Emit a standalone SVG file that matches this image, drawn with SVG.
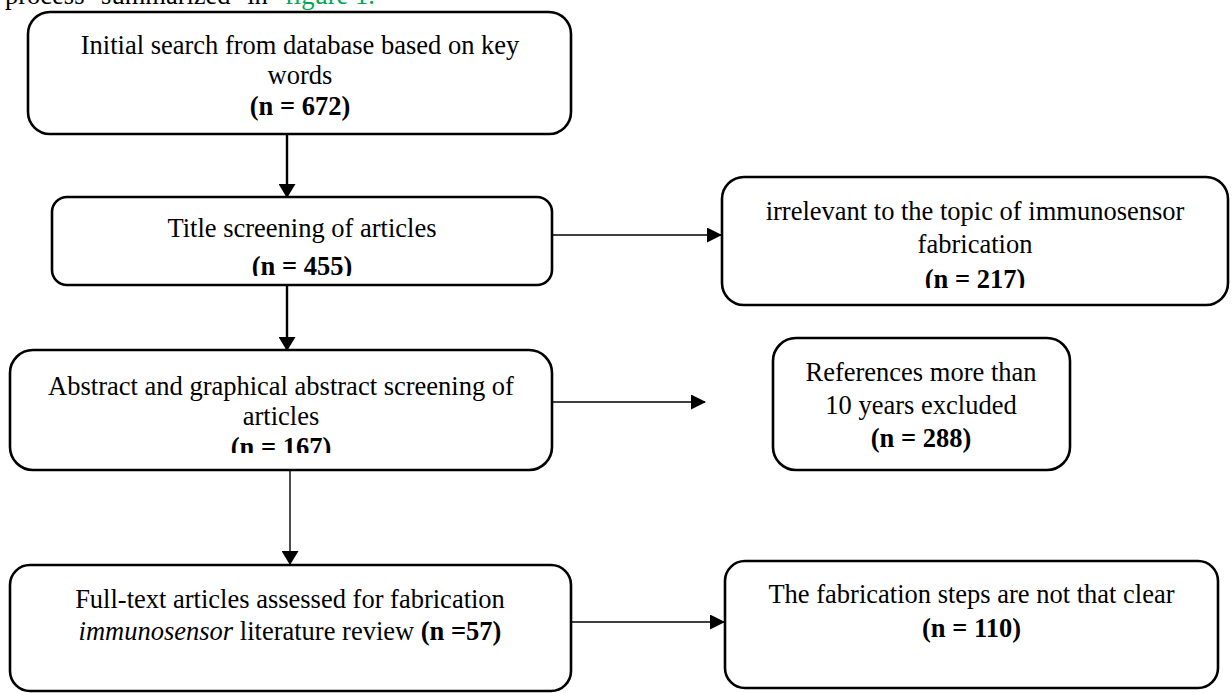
<svg xmlns="http://www.w3.org/2000/svg" width="1232" height="693" viewBox="0 0 1232 693">
<style>
.box{fill:#fff;stroke:#000;stroke-width:2.6}
.t{font-family:"Liberation Serif","Times New Roman",serif;font-size:26.5px;fill:#000;text-anchor:middle}
.b{font-weight:bold}
.c{stroke:#000;fill:none}
.thick{stroke-width:2.4}
.thin{stroke-width:1.4}
</style>
<defs>
<marker id="ah" markerWidth="15" markerHeight="15" refX="14" refY="7.5" orient="auto" markerUnits="userSpaceOnUse"><path d="M0,0 L15,7.5 L0,15 Z" fill="#000"/></marker>
<marker id="ahv" markerWidth="14" markerHeight="17" refX="13" refY="8.5" orient="auto" markerUnits="userSpaceOnUse"><path d="M0,0 L14,8.5 L0,17 Z" fill="#000"/></marker>
<clipPath id="c2"><rect x="52" y="197" width="500" height="79"/></clipPath>
<clipPath id="c3"><rect x="722" y="177" width="506" height="111"/></clipPath>
<clipPath id="c4"><rect x="10" y="350" width="542" height="103"/></clipPath>
</defs>
<text x="5" y="4" style="font-family:'Liberation Serif',serif;font-size:26.5px"><tspan word-spacing="10">process summarized in</tspan><tspan x="285" fill="#00a651">figure 1.</tspan></text>
<g id="n1"><rect class="box" x="28" y="12" width="543" height="122" rx="22"/>
<text class="t" x="300" y="54">Initial search from database based on key</text>
<text class="t" x="300" y="84">words</text>
<text class="t b" x="300" y="115">(n = 672)</text></g>
<g id="n2"><rect class="box" x="52" y="197" width="500" height="88" rx="15"/>
<g clip-path="url(#c2)"><text class="t" x="302" y="237">Title screening of articles</text>
<text class="t b" x="302" y="275">(n = 455)</text></g></g>
<g id="n3"><rect class="box" x="722" y="177" width="506" height="128" rx="22"/>
<g clip-path="url(#c3)"><text class="t" x="975" y="220">irrelevant to the topic of immunosensor</text>
<text class="t" x="975" y="253">fabrication</text>
<text class="t b" x="975" y="288">(n = 217)</text></g></g>
<g id="n4"><rect class="box" x="10" y="350" width="542" height="120" rx="23"/>
<g clip-path="url(#c4)"><text class="t" x="281" y="395">Abstract and graphical abstract screening of</text>
<text class="t" x="281" y="425">articles</text>
<text class="t b" x="281" y="456">(n = 167)</text></g></g>
<g id="n5"><rect class="box" x="773" y="338" width="297" height="132" rx="23"/>
<text class="t" x="921" y="381">References more than</text>
<text class="t" x="921" y="414">10 years excluded</text>
<text class="t b" x="921" y="447">(n = 288)</text></g>
<g id="n6"><rect class="box" x="10" y="565" width="561" height="126" rx="20"/>
<text class="t" x="290" y="608">Full-text articles assessed for fabrication</text>
<text class="t" x="290" y="640"><tspan font-style="italic">immunosensor</tspan> literature review <tspan font-weight="bold">(n =57)</tspan></text></g>
<g id="n7"><rect class="box" x="725" y="561" width="493" height="127" rx="20"/>
<text class="t" x="971.5" y="603">The fabrication steps are not that clear</text>
<text class="t b" x="971.5" y="637">(n = 110)</text></g>
<g id="connectors">
<line class="c thick" x1="287" y1="134" x2="287" y2="197" marker-end="url(#ahv)"/>
<line class="c thick" x1="287" y1="285" x2="287" y2="350" marker-end="url(#ahv)"/>
<line class="c thin" x1="290" y1="470" x2="290" y2="564" marker-end="url(#ahv)"/>
<line class="c thin" x1="552" y1="235" x2="721" y2="235" marker-end="url(#ah)"/>
<line class="c thin" x1="552" y1="402" x2="705" y2="402" marker-end="url(#ah)"/>
<line class="c thin" x1="571" y1="622" x2="724" y2="622" marker-end="url(#ah)"/>
</g>
</svg>
